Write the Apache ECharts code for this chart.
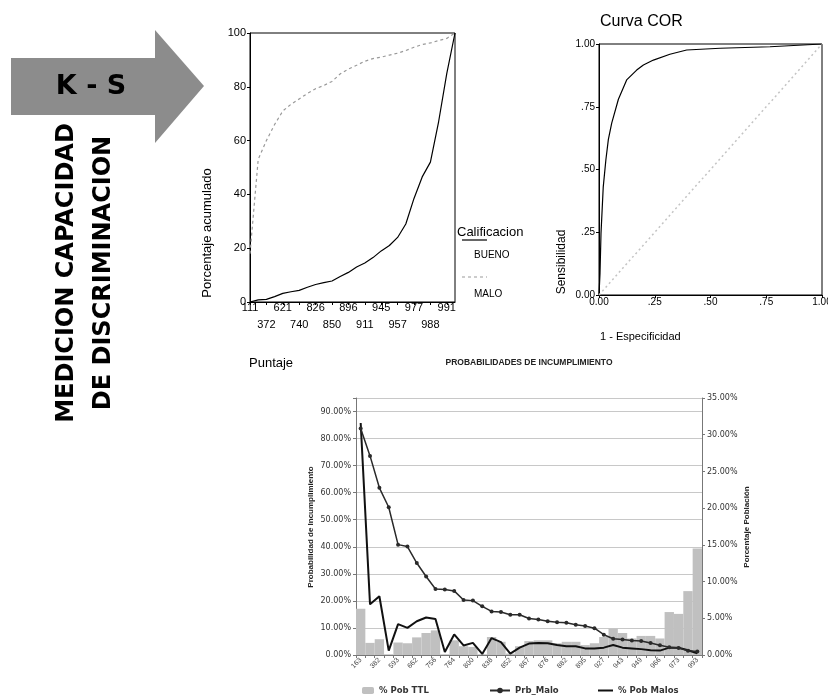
<!DOCTYPE html>
<html>
<head>
<meta charset="utf-8">
<script src="https://cdn.jsdelivr.net/npm/echarts@6.0.0/dist/echarts.min.js"></script>
<style>
html, body { margin: 0; padding: 0; background: #fff; }
#main { width: 828px; height: 696px; }
</style>
</head>
<body>
<div id="main"></div>
<script>
// K-S: cumulative % by score
var ksScores = ['111','250','372','500','621','690','740','790','826','838','850','875','896',
                '904','911','930','945','951','957','968','977','983','988','990','991','995'];
var ksBueno = [0, 0.8, 1, 2, 3.2, 3.8, 4.3, 5.5, 6.5, 7.2, 7.8, 9.5, 11, 13, 14.5, 16.5,
               19, 21, 24, 29, 38.5, 46.5, 52, 67, 85, 100];
var ksMalo = [18, 53, 60, 66, 71, 73.5, 75.5, 77.5, 79.3, 80.5, 82, 84.8, 86.6, 88, 89.5,
              90.5, 91, 91.8, 92.5, 93.5, 94.7, 95.7, 96.3, 97.2, 98, 100];

// ROC
var rocFpr = [0, 0.0045, 0.009, 0.019, 0.031, 0.042, 0.057, 0.087, 0.124, 0.169, 0.199,
              0.244, 0.318, 0.393, 0.543, 0.767, 0.915, 1];
var rocTpr = [0, 0.086, 0.246, 0.43, 0.54, 0.62, 0.685, 0.78, 0.857, 0.896, 0.916,
              0.936, 0.959, 0.976, 0.983, 0.989, 0.996, 1];
var refX = [0, 1];
var refY = [0, 1];
var rocTicks = ['0.00', '.25', '.50', '.75', '1.00'];

// probabilidades de incumplimiento
var probScores = ['163','290','382','490','593','630','662','710','756','760','764','782','800',
                  '820','838','845','852','860','867','872','876','879','882','889','895','911',
                  '927','935','943','946','949','958','966','970','973','983','993'];
var pobTTL = [6.3, 1.65, 2.15, 0.1, 1.7, 1.6, 2.4, 3.0, 3.35, 0.1, 2.0, 1.2, 1.1, 0.1, 2.45,
              1.8, 0.2, 1.2, 1.9, 2.0, 2.0, 1.6, 1.8, 1.8, 1.35, 1.6, 2.45, 3.6, 3.0, 2.25,
              2.6, 2.6, 2.25, 5.85, 5.6, 8.7, 14.5];
var prbMalo = [83.7, 73.6, 61.8, 54.6, 40.8, 40.1, 34, 29, 24.4, 24.2, 23.7, 20.3, 20.1, 18,
               16.1, 15.9, 14.9, 14.9, 13.5, 13.1, 12.5, 12.1, 11.9, 11.2, 10.7, 9.9, 7.5, 6.0,
               5.7, 5.4, 5.2, 4.4, 3.6, 2.9, 2.6, 1.6, 1.3];
var pobMalos = [31.6, 6.9, 8.0, 0.6, 4.2, 3.7, 4.6, 5.1, 4.9, 0.4, 2.8, 1.3, 1.65, 0.15, 2.3,
                1.75, 0.2, 1.0, 1.55, 1.65, 1.6, 1.35, 1.2, 1.2, 0.9, 0.9, 1.0, 1.35, 1.0, 0.9,
                0.8, 0.65, 0.6, 1.0, 1.0, 0.65, 0.22];

var spss = 'Liberation Sans, Arial, sans-serif';
var xl = 'Liberation Sans, Arial, sans-serif';
var vd = 'DejaVu Sans, Verdana, sans-serif';

function zip(a, b) {
  return a.map(function (v, i) { return [v, b[i]]; });
}

var chart = echarts.init(document.getElementById('main'));

var option = {
  backgroundColor: '#fff',
  animation: false,
  grid: [
    { left: 250, top: 33, width: 205, height: 269, show: true, borderColor: '#000', borderWidth: 1, outerBoundsMode: 'none', containLabel: false },
    { left: 599, top: 44, width: 223, height: 251, show: true, borderColor: '#000', borderWidth: 1, outerBoundsMode: 'none', containLabel: false },
    { left: 356, top: 398, width: 346, height: 257, show: false, outerBoundsMode: 'none', containLabel: false }
  ],
  xAxis: [
    {
      // K-S, first row of labels
      type: 'category', gridIndex: 0, data: ksScores, boundaryGap: false,
      axisLine: { lineStyle: { color: '#000', width: 1 } },
      axisTick: { show: true, interval: 1, length: 3, lineStyle: { color: '#000' } },
      axisLabel: {
        interval: function (i) { return i % 4 === 0; },
        fontSize: 11, fontFamily: spss, color: '#000', margin: 0, hideOverlap: false
      },
      splitLine: { show: false }
    },
    {
      type: 'value', gridIndex: 1, min: 0, max: 1, interval: 0.25,
      axisLine: { lineStyle: { color: '#000' } },
      axisTick: { show: true, length: 3, lineStyle: { color: '#000' } },
      axisLabel: {
        fontSize: 10, fontFamily: spss, color: '#000', margin: 2, hideOverlap: false,
        formatter: function (v) { return rocTicks[Math.round(v / 0.25)]; }
      },
      splitLine: { show: false }
    },
    {
      type: 'category', gridIndex: 2, data: probScores,
      axisLine: { lineStyle: { color: '#777' } },
      axisTick: { show: true, interval: 0, length: 3, lineStyle: { color: '#777' } },
      axisLabel: { interval: 1, rotate: 45, fontSize: 7, fontFamily: xl, color: '#444', margin: 4, hideOverlap: false },
      splitLine: { show: false }
    },
    {
      // K-S, second row of labels
      type: 'category', gridIndex: 0, data: ksScores, boundaryGap: false, position: 'bottom',
      axisLine: { show: false }, axisTick: { show: false },
      axisLabel: {
        interval: function (i) { return i % 4 === 2; },
        fontSize: 11, fontFamily: spss, color: '#000', margin: 17, hideOverlap: false
      },
      splitLine: { show: false }
    }
  ],
  yAxis: [
    {
      type: 'value', gridIndex: 0, min: 0, max: 100, interval: 20,
      axisLine: { show: true, lineStyle: { color: '#000' } },
      axisTick: { show: true, length: 3, lineStyle: { color: '#000' } },
      axisLabel: { fontSize: 11, fontFamily: spss, color: '#000', margin: 4 },
      splitLine: { show: false }
    },
    {
      type: 'value', gridIndex: 1, min: 0, max: 1, interval: 0.25,
      axisLine: { show: true, lineStyle: { color: '#000' } },
      axisTick: { show: true, length: 3, lineStyle: { color: '#000' } },
      axisLabel: {
        fontSize: 10, fontFamily: spss, color: '#000', margin: 4,
        formatter: function (v) { return rocTicks[Math.round(v / 0.25)]; }
      },
      splitLine: { show: false }
    },
    {
      type: 'value', gridIndex: 2, min: 0, max: 95, interval: 10, position: 'left',
      axisLine: { show: true, lineStyle: { color: '#777' } },
      axisTick: { show: true, length: 3, lineStyle: { color: '#777' } },
      axisLabel: {
        fontSize: 8, fontFamily: vd, color: '#333', margin: 5,
        formatter: function (v) { return v % 10 === 0 ? v.toFixed(2) + '%' : ''; }
      },
      splitLine: { show: true, lineStyle: { color: '#c8c8c8', width: 1 } }
    },
    {
      type: 'value', gridIndex: 2, min: 0, max: 35, interval: 5, position: 'right',
      axisLine: { show: true, lineStyle: { color: '#777' } },
      axisTick: { show: true, length: 3, lineStyle: { color: '#777' } },
      axisLabel: {
        fontSize: 8, fontFamily: vd, color: '#333', margin: 5,
        formatter: function (v) { return v.toFixed(2) + '%'; }
      },
      splitLine: { show: false }
    }
  ],
  legend: [
    {
      data: ['% Pob TTL'], left: 362, top: 686, padding: 0, itemWidth: 12, itemHeight: 7, itemGap: 4,
      textStyle: { fontSize: 8.5, fontWeight: 'bold', fontFamily: vd, color: '#333' }
    },
    {
      data: ['Prb_Malo'], left: 489, top: 686, padding: 0, itemWidth: 20, itemHeight: 7, itemGap: 4,
      textStyle: { fontSize: 8.5, fontWeight: 'bold', fontFamily: vd, color: '#333' }
    },
    {
      data: [{ name: '% Pob Malos', icon: 'rect' }], left: 598, top: 686, padding: 0,
      itemWidth: 15, itemHeight: 2, itemGap: 4,
      textStyle: { fontSize: 8.5, fontWeight: 'bold', fontFamily: vd, color: '#333' }
    }
  ],
  series: [
    {
      name: 'BUENO', type: 'line', xAxisIndex: 0, yAxisIndex: 0, data: ksBueno,
      symbol: 'none', lineStyle: { color: '#000', width: 1.2 }
    },
    {
      name: 'MALO', type: 'line', xAxisIndex: 0, yAxisIndex: 0, data: ksMalo,
      symbol: 'none', lineStyle: { color: '#999', width: 1.2, type: [3, 3] }
    },
    {
      name: 'COR', type: 'line', xAxisIndex: 1, yAxisIndex: 1, data: zip(rocFpr, rocTpr),
      symbol: 'none', lineStyle: { color: '#000', width: 1.2 }
    },
    {
      name: 'Referencia', type: 'line', xAxisIndex: 1, yAxisIndex: 1, data: zip(refX, refY),
      symbol: 'none', lineStyle: { color: '#c4c4c4', width: 1.5, type: [2, 3] }
    },
    {
      name: '% Pob TTL', type: 'bar', xAxisIndex: 2, yAxisIndex: 3, data: pobTTL,
      barCategoryGap: '0%', itemStyle: { color: '#c0c0c0' }, z: 1
    },
    {
      name: 'Prb_Malo', type: 'line', xAxisIndex: 2, yAxisIndex: 2, data: prbMalo,
      symbol: 'circle', symbolSize: 4, itemStyle: { color: '#2a2a2a' },
      lineStyle: { color: '#2a2a2a', width: 1.5 }, z: 3
    },
    {
      name: '% Pob Malos', type: 'line', xAxisIndex: 2, yAxisIndex: 3, data: pobMalos,
      symbol: 'none', itemStyle: { color: '#111' }, lineStyle: { color: '#111', width: 2 }, z: 2
    }
  ],
  graphic: [
    // left panel
    {
      type: 'polygon',
      shape: { points: [[11, 58], [155, 58], [155, 30], [204, 86], [155, 143], [155, 115], [11, 115]] },
      style: { fill: '#8c8c8c' }
    },
    {
      type: 'text', x: 91, y: 87,
      style: { text: 'K - S', font: 'bold 27px "DejaVu Sans", Verdana, sans-serif', fill: '#000', textAlign: 'center', textVerticalAlign: 'middle' }
    },
    {
      type: 'text', x: 67, y: 273, rotation: Math.PI / 2,
      style: { text: 'MEDICION CAPACIDAD', font: 'bold 24px "DejaVu Sans", Verdana, sans-serif', fill: '#000', textAlign: 'center', textVerticalAlign: 'middle' }
    },
    {
      type: 'text', x: 104, y: 273, rotation: Math.PI / 2,
      style: { text: 'DE DISCRIMINACION', font: 'bold 24px "DejaVu Sans", Verdana, sans-serif', fill: '#000', textAlign: 'center', textVerticalAlign: 'middle' }
    },
    // K-S labels
    {
      type: 'text', x: 207, y: 233, rotation: Math.PI / 2,
      style: { text: 'Porcentaje acumulado', font: '13px ' + spss, fill: '#000', textAlign: 'center', textVerticalAlign: 'middle' }
    },
    {
      type: 'text', x: 249, y: 363,
      style: { text: 'Puntaje', font: '13px ' + spss, fill: '#000', textAlign: 'left', textVerticalAlign: 'middle' }
    },
    {
      type: 'text', x: 457, y: 232,
      style: { text: 'Calificacion', font: '13px ' + spss, fill: '#000', textAlign: 'left', textVerticalAlign: 'middle' }
    },
    { type: 'line', shape: { x1: 462, y1: 240, x2: 487, y2: 240 }, style: { stroke: '#000', lineWidth: 1.2 } },
    {
      type: 'text', x: 474, y: 255,
      style: { text: 'BUENO', font: '10px ' + spss, fill: '#000', textAlign: 'left', textVerticalAlign: 'middle' }
    },
    { type: 'line', shape: { x1: 462, y1: 277, x2: 487, y2: 277 }, style: { stroke: '#999', lineWidth: 1.2, lineDash: [3, 3] } },
    {
      type: 'text', x: 474, y: 294,
      style: { text: 'MALO', font: '10px ' + spss, fill: '#000', textAlign: 'left', textVerticalAlign: 'middle' }
    },
    // ROC labels
    {
      type: 'text', x: 600, y: 22,
      style: { text: 'Curva COR', font: '16px ' + spss, fill: '#000', textAlign: 'left', textVerticalAlign: 'middle' }
    },
    {
      type: 'text', x: 562, y: 262, rotation: Math.PI / 2,
      style: { text: 'Sensibilidad', font: '12px ' + spss, fill: '#000', textAlign: 'center', textVerticalAlign: 'middle' }
    },
    {
      type: 'text', x: 600, y: 337,
      style: { text: '1 - Especificidad', font: '11px ' + spss, fill: '#000', textAlign: 'left', textVerticalAlign: 'middle' }
    },
    // bottom chart labels
    {
      type: 'text', x: 529, y: 363,
      style: { text: 'PROBABILIDADES DE INCUMPLIMIENTO', font: 'bold 8.5px ' + xl, fill: '#222', textAlign: 'center', textVerticalAlign: 'middle' }
    },
    {
      type: 'text', x: 311, y: 527, rotation: Math.PI / 2,
      style: { text: 'Probabilidad de Incumplimiento', font: 'bold 8px ' + xl, fill: '#222', textAlign: 'center', textVerticalAlign: 'middle' }
    },
    {
      type: 'text', x: 747, y: 527, rotation: Math.PI / 2,
      style: { text: 'Porcentaje Población', font: 'bold 8px ' + xl, fill: '#222', textAlign: 'center', textVerticalAlign: 'middle' }
    }
  ]
};

chart.setOption(option);
</script>
</body>
</html>
